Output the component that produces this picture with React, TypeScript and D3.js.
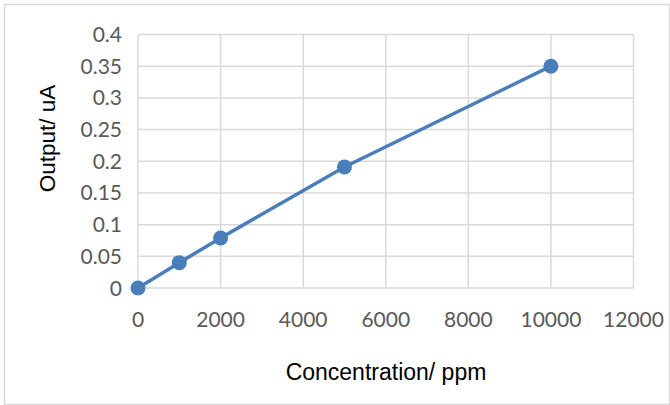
import React from "react";
import * as d3 from "d3";

const concentration = [0, 1000, 2000, 5000, 10000];
const output = [0, 0.04, 0.079, 0.191, 0.35];
const xTicks = [0, 2000, 4000, 6000, 8000, 10000, 12000];
const yTicks = [0, 0.05, 0.1, 0.15, 0.2, 0.25, 0.3, 0.35, 0.4];

const W = 670;
const H = 405;
const M = { left: 138, right: 36.5, top: 34.5, bottom: 117 };

export default function App() {
  const x = d3.scaleLinear().domain([0, 12000]).range([M.left, W - M.right]);
  const y = d3.scaleLinear().domain([0, 0.4]).range([H - M.bottom, M.top]);
  const pts = concentration.map((c, i) => [c, output[i]] as [number, number]);
  const line = d3.line<[number, number]>().x((d) => x(d[0])).y((d) => y(d[1]));
  const tickFont = "Lato, 'Open Sans', sans-serif";
  return (
    <svg
      width={W}
      height={H}
      style={{ position: "absolute", left: 0, top: 0, background: "#fff" }}
    >
      <rect x={4.5} y={4.5} width={W - 5} height={H - 5} fill="#fff" stroke="#d9d9d9" strokeWidth={1.5} />
      {xTicks.map((t) => (
        <line key={"gx" + t} x1={x(t)} x2={x(t)} y1={y(0.4)} y2={y(0)} stroke="#d9d9d9" strokeWidth={1.5} />
      ))}
      {yTicks.map((t) => (
        <line key={"gy" + t} x1={x(0)} x2={x(12000)} y1={y(t)} y2={y(t)} stroke="#d9d9d9" strokeWidth={1.5} />
      ))}
      {yTicks.map((t) => (
        <text
          key={"ly" + t}
          x={x(0) - 16}
          y={y(t)}
          dy="0.36em"
          textAnchor="end"
          fontFamily={tickFont}
          fontSize={21}
          fill="#595959"
        >
          {String(t)}
        </text>
      ))}
      {xTicks.map((t) => (
        <text
          key={"lx" + t}
          x={x(t)}
          y={y(0) + 39}
          textAnchor="middle"
          fontFamily={tickFont}
          fontSize={21}
          fill="#595959"
        >
          {String(t)}
        </text>
      ))}
      <path d={line(pts) || ""} fill="none" stroke="#4a7ebb" strokeWidth={3.5} />
      {pts.map((p, i) => (
        <circle key={"pt" + i} cx={x(p[0])} cy={y(p[1])} r={7.5} fill="#4a7ebb" />
      ))}
      <text
        x={386}
        y={380}
        textAnchor="middle"
        fontFamily="'Liberation Sans', Arial, sans-serif"
        fontSize={23}
        fill="#000"
      >
        Concentration/ ppm
      </text>
      <text
        transform={`translate(55, 138.5) rotate(-90)`}
        textAnchor="middle"
        fontFamily="'Liberation Sans', Arial, sans-serif"
        fontSize={22.5}
        fill="#000"
      >
        Output/ uA
      </text>
    </svg>
  );
}
